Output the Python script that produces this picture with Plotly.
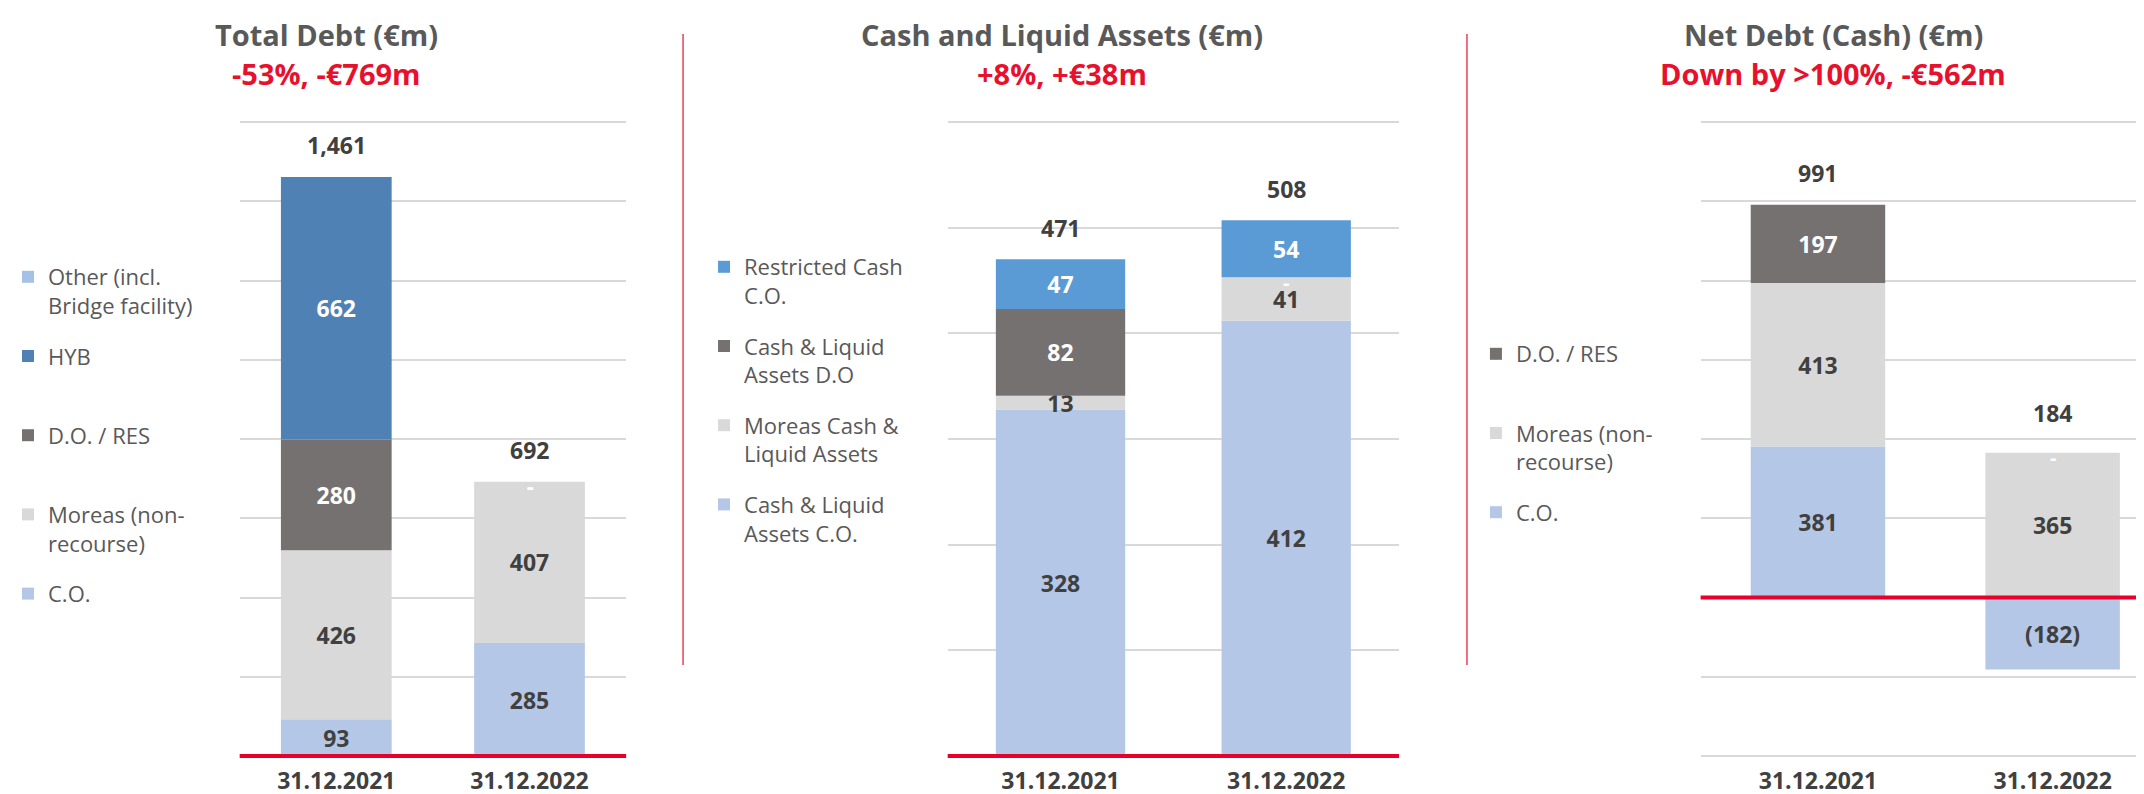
import plotly.graph_objects as go

dates = ["31.12.2021", "31.12.2022"]

# Total Debt
debt_co = [93, 285]
debt_moreas = [426, 407]
debt_do_res = [280, 0]
debt_hyb = [662, 0]
debt_other = [None, 0]
debt_total = [1461, 692]

# Cash and Liquid Assets
cash_co = [328, 412]
cash_moreas = [13, 41]
cash_do = [82, 0]
cash_restricted = [47, 54]
cash_total = [471, 508]

# Net Debt (Cash)
net_co = [381, -182]
net_moreas = [413, 365]
net_do_res = [197, 0]
net_total = [991, 184]

FONT = "Open Sans"
W, H = 2144, 794
C_CO = "#B4C7E7"
C_MOREAS = "#D9D9D9"
C_DO = "#767171"
C_HYB = "#4F81B5"
C_OTHER = "#A4C2E6"
C_RESTR = "#5B9BD5"
DARK = "#404040"
RED = "#E8002A"


def fmt(v):
    if v is None or v == 0:
        return ""
    if v < 0:
        return "({:,})".format(-v)
    return "{:,}".format(v)


def px_x(p):
    return p / W


def px_y(p):
    return 1 - p / H


fig = go.Figure()
annotations = []


def panel(n, legend, series, totals, shifts):
    '''
    series: list of (legend text, values, colour, label colour), bottom to top
    '''
    xa = "x" if n == 1 else "x%d" % n
    ya = "y" if n == 1 else "y%d" % n
    pos = [0, 0]
    for k, (name, vals, color, tcol) in enumerate(series):
        fig.add_trace(go.Bar(
            x=dates, y=vals, name=name, marker_color=color, marker_line_width=0,
            text=[fmt(v) for v in vals], textposition="inside", insidetextanchor="middle",
            textangle=0, textfont=dict(family=FONT, size=23, color=tcol, weight="bold"),
            constraintext="none", xaxis=xa, yaxis=ya, legend=legend,
            legendgroup="p%d_%d" % (n, k), legendrank=100 - k, hoverinfo="skip"))
        for i, v in enumerate(vals):
            if v is None:
                continue
            if v == 0:
                # excel shows a white dash for empty segments
                annotations.append(dict(x=dates[i], y=pos[i], xref=xa, yref=ya, text="-",
                                        showarrow=False, yshift=-5,
                                        font=dict(family=FONT, size=20, color="white", weight="bold")))
            elif v > 0:
                pos[i] += v
    for i, t in enumerate(totals):
        annotations.append(dict(x=dates[i], y=pos[i], xref=xa, yref=ya, text="{:,}".format(t),
                                showarrow=False, yanchor="middle", yshift=shifts[i],
                                font=dict(family=FONT, size=23, color=DARK, weight="bold")))


panel(1, "legend", [
    ("C.O.<br> ", debt_co, C_CO, DARK),
    ("Moreas (non-<br>recourse)", debt_moreas, C_MOREAS, DARK),
    ("D.O. / RES<br> ", debt_do_res, C_DO, "white"),
    ("HYB<br> ", debt_hyb, C_HYB, "white"),
    ("Other (incl.<br>Bridge facility)", debt_other, C_OTHER, DARK),
], debt_total, [32, 32])

panel(2, "legend2", [
    ("Cash & Liquid<br>Assets C.O.", cash_co, C_CO, DARK),
    ("Moreas Cash &<br>Liquid Assets", cash_moreas, C_MOREAS, DARK),
    ("Cash & Liquid<br>Assets D.O", cash_do, C_DO, "white"),
    ("Restricted Cash<br>C.O.", cash_restricted, C_RESTR, "white"),
], cash_total, [31, 31])

panel(3, "legend3", [
    ("C.O.<br> ", net_co, C_CO, DARK),
    ("Moreas (non-<br>recourse)", net_moreas, C_MOREAS, DARK),
    ("D.O. / RES<br> ", net_do_res, C_DO, "white"),
], net_total, [32, 40])

titles = [
    (316, "Total Debt (€m)", "-53%, -€769m"),
    (1052, "Cash and Liquid Assets (€m)", "+8%, +€38m"),
    (1825, "Net Debt (Cash) (€m)", "Down by >100%, -€562m"),
]
for cx, t, sub in titles:
    annotations.append(dict(x=px_x(cx), y=px_y(27), xref="paper", yref="paper", text=t,
                            showarrow=False, xanchor="center", yanchor="middle",
                            font=dict(family=FONT, size=29, color="#595959", weight="bold")))
    annotations.append(dict(x=px_x(cx), y=px_y(65), xref="paper", yref="paper", text=sub,
                            showarrow=False, xanchor="center", yanchor="middle",
                            font=dict(family=FONT, size=29, color="#E8112D", weight="bold")))

shapes = []
for xa in ["x", "x2", "x3"]:
    ya = xa.replace("x", "y")
    shapes.append(dict(type="line", xref=xa + " domain", yref=ya, x0=0, x1=1, y0=0, y1=0,
                       line=dict(color=RED, width=4), layer="above"))
for sx in [673, 1458]:
    shapes.append(dict(type="line", xref="paper", yref="paper", x0=px_x(sx), x1=px_x(sx),
                       y0=px_y(26), y1=px_y(657), line=dict(color="#E8405A", width=1.5)))

# plot area runs 114..748 px; pad 2 px each way so the end gridlines are kept
ydom = [px_y(750), px_y(112)]


def yrange(lo, hi):
    pad = 2 * (hi - lo) / 634.0
    return [lo - pad, hi + pad]


xcommon = dict(type="category", showgrid=False, showline=False, zeroline=False, ticks="",
               ticklabelstandoff=7, tickfont=dict(family=FONT, size=23, color=DARK, weight="bold"))
ycommon = dict(domain=ydom, showticklabels=False, showgrid=True, gridcolor="#D9D9D9",
               gridwidth=2, zeroline=False, showline=False, ticks="")

legcommon = dict(xanchor="left", yanchor="top", traceorder="grouped", tracegroupgap=19,
                 valign="top", bgcolor="rgba(0,0,0,0)",
                 font=dict(family=FONT, size=22, color="#595959"))

fig.update_layout(
    width=W, height=H, margin=dict(l=0, r=0, t=0, b=0),
    plot_bgcolor="white", paper_bgcolor="white",
    barmode="relative", bargap=0.427,
    xaxis=dict(domain=[px_x(229), px_x(616)], range=[-0.5, 1.5], anchor="y", **xcommon),
    yaxis=dict(range=yrange(0, 1600), dtick=200, anchor="x", **ycommon),
    xaxis2=dict(domain=[px_x(938), px_x(1390)], range=[-0.5, 1.5], anchor="y2", **xcommon),
    yaxis2=dict(range=yrange(0, 600), dtick=100, anchor="x2", **ycommon),
    xaxis3=dict(domain=[px_x(1692), 1], range=[-0.5, -0.5 + (W - 1692) / 235.0], anchor="y3", **xcommon),
    yaxis3=dict(range=yrange(-400, 1200), dtick=200, anchor="x3", **ycommon),
    legend=dict(x=px_x(-3), y=px_y(248), **legcommon),
    legend2=dict(x=px_x(694), y=px_y(238), **legcommon),
    legend3=dict(x=px_x(1467), y=px_y(325), **legcommon),
    annotations=annotations,
    shapes=shapes,
)

fig.write_html("out.html")
